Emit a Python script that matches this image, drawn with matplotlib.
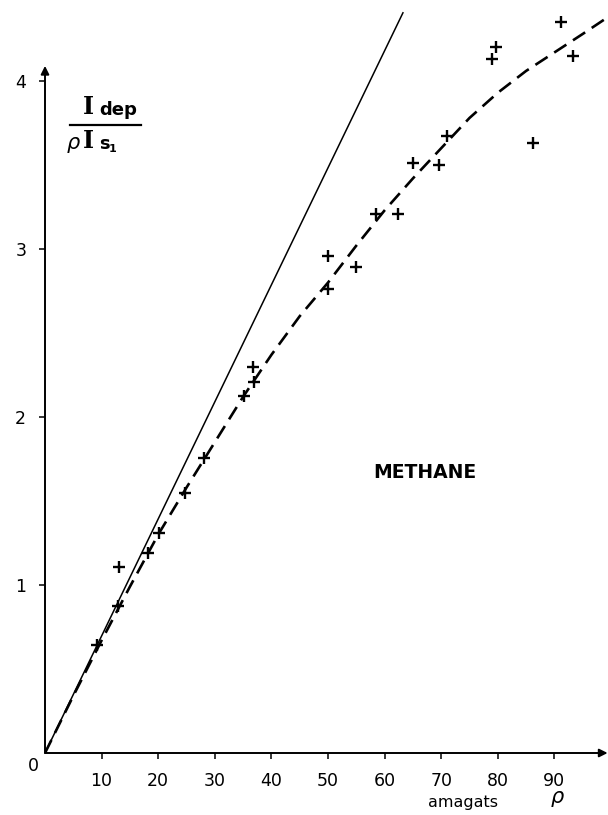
import matplotlib
matplotlib.use("Agg")
import matplotlib.pyplot as plt
from matplotlib.lines import Line2D

# Measured depolarized intensity ratio for methane vs. density (amagats)
rho_pts = [9.2, 13.1, 12.9, 18.2, 20.1, 24.7, 28.1, 35.2, 36.9, 36.7,
           50.0, 50.0, 54.9, 58.5, 62.4, 65.0, 69.6, 71.0, 79.0, 79.7,
           86.2, 91.2, 93.3]
ratio_pts = [0.64, 1.11, 0.875, 1.19, 1.31, 1.55, 1.756, 2.125, 2.21, 2.30,
             2.76, 2.96, 2.89, 3.21, 3.21, 3.51, 3.50, 3.67, 4.13, 4.20,
             3.63, 4.35, 4.15]

# Low-density limiting straight line
line_rho = [0.0, 63.3]
line_ratio = [0.0, 4.41]

# Smooth trend through the measurements
curve_rho = [0, 5, 10, 15, 20, 25, 30, 35, 40, 45, 50, 55, 60, 65, 70,
             75, 80, 85, 90, 95, 99]
curve_ratio = [0.0, 0.34, 0.67, 0.99, 1.30, 1.58, 1.85, 2.12, 2.37, 2.60,
               2.80, 3.02, 3.23, 3.42, 3.60, 3.78, 3.93, 4.06, 4.17, 4.28, 4.37]

xticks = [10, 20, 30, 40, 50, 60, 70, 80, 90]
yticks = [1, 2, 3, 4]

W, H = 608, 815
fig = plt.figure(figsize=(W / 100, H / 100), dpi=100)
fig.patch.set_facecolor("white")

x0_px, y0_px = 45, 753
ax = fig.add_axes([x0_px / W, (H - y0_px) / H, (W - x0_px) / W, y0_px / H])
ax.set_xlim(0, (W - x0_px) / 5.66)
ax.set_ylim(0, y0_px / 168.0)
ax.patch.set_alpha(0)
for s in ax.spines.values():
    s.set_visible(False)

# Axes drawn as arrows
arrow = dict(arrowstyle="-|>", color="black", lw=1.4, mutation_scale=12,
             shrinkA=0, shrinkB=0)
ax.annotate("", xy=(0, 4.09), xytext=(0, 0), arrowprops=arrow,
            annotation_clip=False)
ax.annotate("", xy=(99.4, 0), xytext=(0, 0), arrowprops=arrow,
            annotation_clip=False)

ax.set_xticks(xticks)
ax.set_yticks(yticks)
ax.set_xticklabels([str(v) for v in xticks])
ax.set_yticklabels([str(v) for v in yticks])
ax.tick_params(axis="both", direction="out", length=4.5, width=1.1,
               labelsize=12.5, color="black")
ax.tick_params(axis="x", pad=9)
ax.tick_params(axis="y", pad=9)

ax.plot(line_rho, line_ratio, color="black", lw=1.1, solid_capstyle="butt")
ax.plot(curve_rho, curve_ratio, color="black", lw=1.9, dashes=(5.5, 3))
ax.plot(rho_pts, ratio_pts, linestyle="none", marker="+", markersize=9,
        markeredgewidth=1.7, color="black", clip_on=False)

def px(x, y):
    return x / W, 1 - y / H

fig.text(*px(33, 766), "0", fontsize=12.5, ha="center", va="center")
fig.text(*px(425, 473), "METHANE", fontsize=13.5, fontweight="bold",
         ha="center", va="center")
fig.text(*px(463, 802), "amagats", fontsize=11.5, ha="center", va="center")
fig.text(*px(558, 799), r"$\rho$", fontsize=15, ha="center", va="center")

# Ordinate label as a fraction
fig.text(*px(88, 107), "I", fontsize=17, family="DejaVu Serif",
         fontweight="bold", ha="center", va="center")
fig.text(*px(118, 110), "dep", fontsize=13, fontweight="bold",
         ha="center", va="center")
fig.add_artist(Line2D([70 / W, 141 / W], [1 - 125 / H, 1 - 125 / H],
                      color="black", lw=1.6, transform=fig.transFigure))
fig.text(*px(74, 145), r"$\rho$", fontsize=15, ha="center", va="center")
fig.text(*px(88, 141), "I", fontsize=17, family="DejaVu Serif",
         fontweight="bold", ha="center", va="center")
fig.text(*px(104, 144), "s", fontsize=13, fontweight="bold",
         ha="center", va="center")
fig.text(*px(113, 149), "1", fontsize=8, fontweight="bold",
         ha="center", va="center")

fig.savefig("out.png", dpi=100, facecolor="white")
